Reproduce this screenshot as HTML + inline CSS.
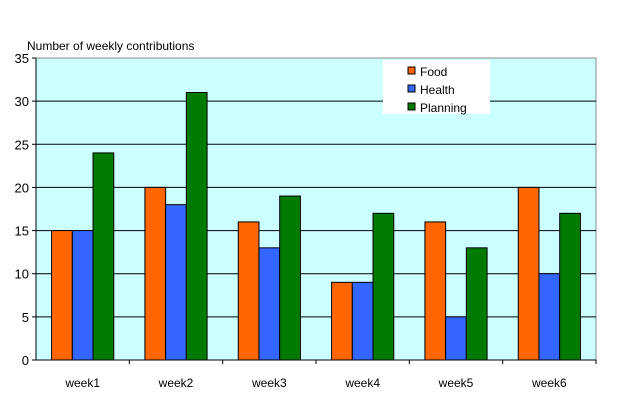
<!DOCTYPE html>
<html><head><meta charset="utf-8"><style>
body{margin:0;background:#fff;}
svg{display:block;font-family:"Liberation Sans",Arial,sans-serif;}
</style></head><body>
<svg width="620" height="401">
<text x="27" y="50" font-size="12">Number of weekly contributions</text>
<g id="g"></g>
</svg>
<script>
const categories=["week1","week2","week3","week4","week5","week6"];
const food=[15,20,16,9,16,20];
const health=[15,18,13,9,5,10];
const planning=[24,31,19,17,13,17];
const yTicks=[0,5,10,15,20,25,30,35];
const seriesNames=["Food","Health","Planning"];
const colors=["#ff6600","#3366ff","#007a00"];
const L=36,R=596,T=58,B=360,maxV=35;
const y=v=>B-(v/maxV)*(B-T);
const cw=(R-L)/categories.length;
const x=i=>L+i*cw;
const NS="http://www.w3.org/2000/svg";
const g=document.getElementById('g');
function mk(t,a){const e=document.createElementNS(NS,t);for(const k in a)e.setAttribute(k,a[k]);g.appendChild(e);return e;}
let e=mk('rect',{x:L,y:T,width:R-L,height:B-T,fill:'#ccffff',stroke:'#888','stroke-width':1});

yTicks.forEach(v=>{
 if(v>0&&v<maxV){let l=mk('line',{x1:L,x2:R,y1:y(v),y2:y(v),stroke:'#000'});}
 let t=mk('line',{x1:L-4,x2:L,y1:y(v),y2:y(v),stroke:'#000'});
 let tx=mk('text',{x:L-7,y:y(v)+5,'text-anchor':'end','font-size':13});tx.textContent=v;
 
});
const series=[food,health,planning];
const bw=cw*0.222,off=cw*0.167;
categories.forEach((c,i)=>{
 series.forEach((s,j)=>{
  let r=mk('rect',{x:x(i)+off+j*bw,y:y(s[i]),width:bw,height:B-y(s[i]),fill:colors[j],stroke:'#000','stroke-width':1});
  
 });
 let t=mk('line',{x1:x(i+1),x2:x(i+1),y1:B,y2:B+4,stroke:'#000'});
 let tx=mk('text',{x:x(i)+cw/2,y:B+27,'text-anchor':'middle','font-size':12});tx.textContent=c;
 
});
let ax=mk('line',{x1:L,x2:L,y1:T,y2:B,stroke:'#000'});
let bx=mk('line',{x1:L,x2:R,y1:B,y2:B,stroke:'#000'});
let lg=mk('rect',{x:383,y:60,width:107,height:54,fill:'#fff'});
seriesNames.forEach((n,j)=>{
 let s=mk('rect',{x:408,y:67+j*18,width:7,height:7,fill:colors[j],stroke:'#000'});
 let t=mk('text',{x:420,y:76+j*18,'font-size':12});t.textContent=n;
});
</script>
</body></html>
